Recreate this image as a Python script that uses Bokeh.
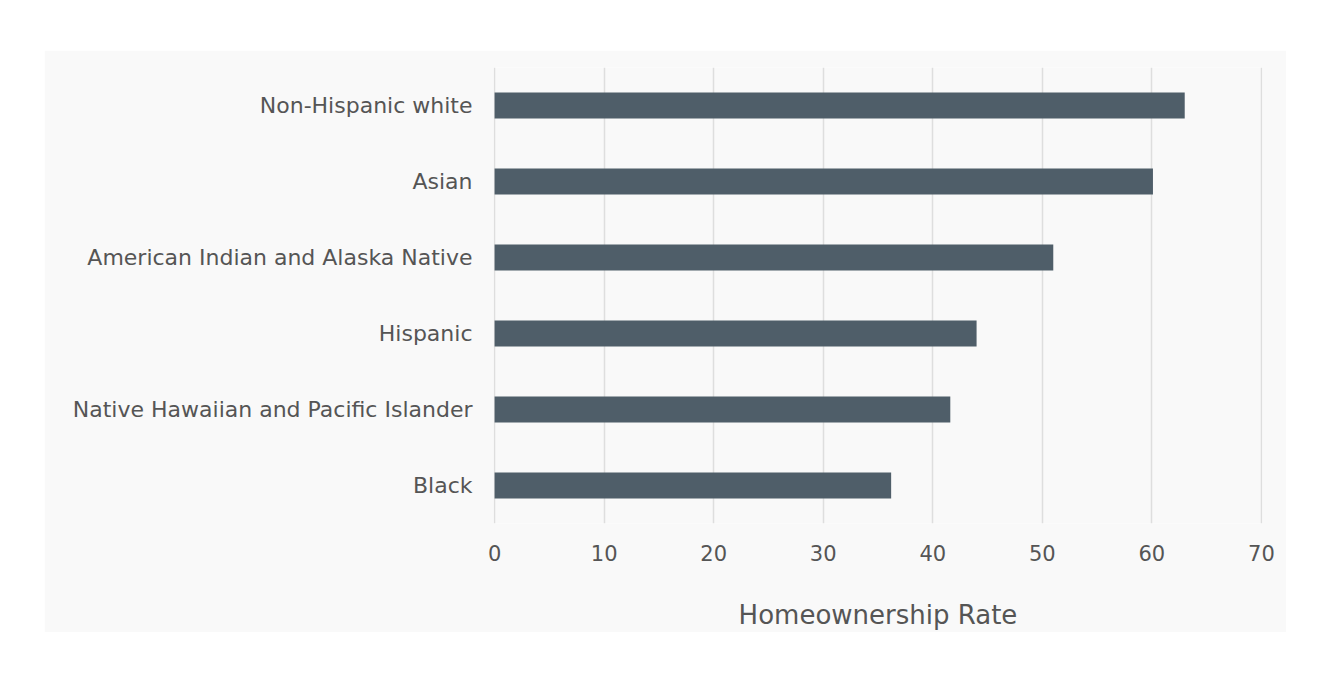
from bokeh.plotting import figure
from bokeh.models import Range1d
from bokeh.embed import file_html
from bokeh.resources import INLINE

categories = ["Black", "Native Hawaiian and Pacific Islander", "Hispanic",
              "American Indian and Alaska Native", "Asian", "Non-Hispanic white"]
rates = [36.2, 41.6, 44.0, 51.0, 60.1, 63.0]
x_ticks = [0, 10, 20, 30, 40, 50, 60, 70]

FONT = "DejaVu Sans"
TXT = "#555555"

p = figure(y_range=categories, x_range=Range1d(-0.1, 70.1),
           width=1242, height=582, margin=(50, 0, 0, 44),
           output_backend="svg", toolbar_location=None,
           min_border_left=449, min_border_right=24,
           min_border_top=17, min_border_bottom=109)

p.xgrid.level = "underlay"
p.background_fill_color = "#f9f9f9"
p.border_fill_color = "#f9f9f9"
p.outline_line_color = None

p.ygrid.grid_line_color = None
p.xgrid.grid_line_color = "#dedede"
p.xgrid.grid_line_width = 1.5

p.hbar(y=categories, right=rates, left=0, height=0.34,
       fill_color="#4f5e69", line_color=None)

p.xaxis.ticker = x_ticks
p.xaxis.axis_line_color = None
p.xaxis.major_tick_line_color = None
p.xaxis.minor_tick_line_color = None
p.xaxis.major_label_text_font = FONT
p.xaxis.major_label_text_font_size = "21px"
p.xaxis.major_label_text_color = TXT
p.xaxis.major_label_standoff = 15
p.xaxis.axis_label = "Homeownership Rate"
p.xaxis.axis_label_text_font = FONT
p.xaxis.axis_label_text_font_size = "26px"
p.xaxis.axis_label_text_font_style = "normal"
p.xaxis.axis_label_text_color = TXT
p.xaxis.axis_label_standoff = 36

p.yaxis.axis_line_color = None
p.yaxis.major_tick_line_color = None
p.yaxis.minor_tick_line_color = None
p.yaxis.major_label_text_font = FONT
p.yaxis.major_label_text_font_size = "22px"
p.yaxis.major_label_text_color = TXT
p.yaxis.major_label_standoff = 15

open("out.html", "w").write(file_html(p, INLINE))
